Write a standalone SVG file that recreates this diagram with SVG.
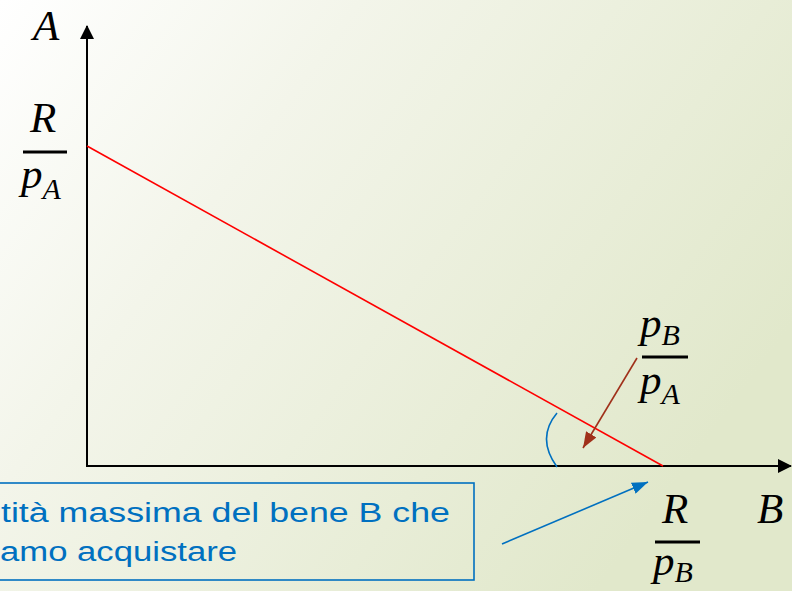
<svg xmlns="http://www.w3.org/2000/svg" width="792" height="591" viewBox="0 0 792 591">
<defs>
<linearGradient id="bg" x1="0" y1="0" x2="1" y2="0.55">
<stop offset="0" stop-color="#FFFFFF"/>
<stop offset="0.35" stop-color="#F3F5EA"/>
<stop offset="1" stop-color="#E1E8CB"/>
</linearGradient>
<marker id="axArrow" markerUnits="userSpaceOnUse" markerWidth="14" markerHeight="14" refX="13" refY="7" orient="auto">
<path d="M0,0 L14,7 L0,14 z" fill="#000"/>
</marker>
<marker id="brownArrow" markerUnits="userSpaceOnUse" markerWidth="16" markerHeight="12" refX="16" refY="6" orient="auto">
<path d="M0,0 L16,6 L0,12 z" fill="#A0301A"/>
</marker>
<marker id="blueArrow" markerUnits="userSpaceOnUse" markerWidth="16" markerHeight="12" refX="16" refY="6" orient="auto">
<path d="M0,0 L16,6 L0,12 z" fill="#0070C0"/>
</marker>
</defs>
<style>
.math{font-family:"Liberation Serif","DejaVu Serif",serif;font-style:italic;font-size:43px;fill:#000}
.sub{font-size:30px}
.bar{stroke:#000;stroke-width:3}
.note{font-family:"Liberation Sans","Noto Sans",sans-serif;font-size:27px;fill:#0070C0}
</style>
<rect x="0" y="0" width="792" height="591" fill="url(#bg)"/>

<g id="connectors">
<line id="axisY" x1="87" y1="467" x2="87" y2="26" stroke="#000" stroke-width="2" marker-end="url(#axArrow)"/>
<line id="axisX" x1="86" y1="466" x2="791" y2="466" stroke="#000" stroke-width="2" marker-end="url(#axArrow)"/>
<line id="budget" x1="87" y1="146" x2="663" y2="466" stroke="#FF0000" stroke-width="1.6"/>
<path id="angleArc" d="M557,413 Q536,438 557,467" fill="none" stroke="#0070C0" stroke-width="1.6"/>
<line id="slopeArrow" x1="637" y1="358" x2="583" y2="448" stroke="#A0301A" stroke-width="1.6" marker-end="url(#brownArrow)"/>
<line id="noteArrow" x1="502" y1="544" x2="648" y2="482" stroke="#0070C0" stroke-width="1.6" marker-end="url(#blueArrow)"/>
</g>

<g id="labelA">
<text class="math" x="33" y="40">A</text>
</g>
<g id="labelB">
<text class="math" x="757" y="523">B</text>
</g>

<g id="interceptA">
<text class="math" x="30" y="132">R</text>
<line class="bar" x1="23" y1="152" x2="67" y2="152"/>
<text class="math" x="21" y="188">p<tspan class="sub" y="199">A</tspan></text>
</g>

<g id="slope">
<text class="math" x="640" y="337">p<tspan class="sub" y="345">B</tspan></text>
<line class="bar" x1="642" y1="357" x2="688" y2="357"/>
<text class="math" x="640" y="394">p<tspan class="sub" y="404">A</tspan></text>
</g>

<g id="interceptB">
<text class="math" x="662" y="523">R</text>
<line class="bar" x1="655" y1="542" x2="700" y2="542"/>
<text class="math" x="653" y="575">p<tspan class="sub" y="582">B</tspan></text>
</g>

<g id="noteBox">
<rect x="-2" y="483" width="476" height="97" fill="none" stroke="#0070C0" stroke-width="1.6"/>
<text class="note" x="1" y="522" textLength="449" lengthAdjust="spacingAndGlyphs">tità massima del bene B che</text>
<text class="note" x="0" y="561" textLength="237" lengthAdjust="spacingAndGlyphs">amo acquistare</text>
</g>
</svg>
